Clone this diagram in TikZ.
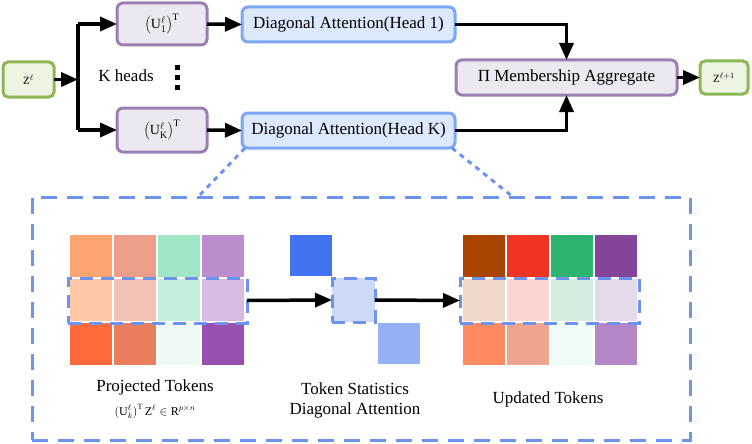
\documentclass[tikz,border=0pt]{standalone}
\usepackage{fontspec}
\setmainfont{Liberation Serif}
\usetikzlibrary{arrows.meta}
\definecolor{pborder}{HTML}{9A80B0}
\definecolor{pfill}{HTML}{ECE8F1}
\definecolor{bborder}{HTML}{7DA6F7}
\definecolor{bfill}{HTML}{DCE8FC}
\definecolor{gborder}{HTML}{8DB755}
\definecolor{gfill}{HTML}{ECF4E2}
\definecolor{dashblue}{HTML}{6E93EE}
% left grid
\definecolor{L11}{HTML}{FDA571}\definecolor{L12}{HTML}{EC9E88}\definecolor{L13}{HTML}{A0E6C4}\definecolor{L14}{HTML}{BB8DCC}
\definecolor{L21}{HTML}{FDC7A8}\definecolor{L22}{HTML}{F2C3B5}\definecolor{L23}{HTML}{C6EEDC}\definecolor{L24}{HTML}{D8BBE0}
\definecolor{L31}{HTML}{FF6A3D}\definecolor{L32}{HTML}{EA7D5E}\definecolor{L33}{HTML}{EEFAF3}\definecolor{L34}{HTML}{974FB0}
% right grid
\definecolor{R11}{HTML}{A84300}\definecolor{R12}{HTML}{EE3524}\definecolor{R13}{HTML}{2DB46F}\definecolor{R14}{HTML}{834499}
\definecolor{R21}{HTML}{EFD8CB}\definecolor{R22}{HTML}{FAD5D1}\definecolor{R23}{HTML}{D5EDE1}\definecolor{R24}{HTML}{E5DAEB}
\definecolor{R31}{HTML}{FF8A62}\definecolor{R32}{HTML}{EEA48D}\definecolor{R33}{HTML}{EFFBF5}\definecolor{R34}{HTML}{B586C8}
\definecolor{sqdark}{HTML}{4273F0}
\definecolor{sqmid}{HTML}{CCDAF8}
\definecolor{sqlow}{HTML}{95B1F5}
\begin{document}
\begin{tikzpicture}[x=1pt,y=-1pt,
  every node/.style={inner sep=0pt, outer sep=0pt},
  pbox/.style={draw=pborder, fill=pfill, line width=3pt, rounded corners=6pt},
  bbox/.style={draw=bborder, fill=bfill, line width=3pt, rounded corners=6pt},
  gbox/.style={draw=gborder, fill=gfill, line width=3pt, rounded corners=5pt},
  conn/.style={line width=3.5pt, -{Triangle[length=17pt,width=14pt]}},
  plainline/.style={line width=3.5pt},
  bigtxt/.style={font=\fontsize{17}{20}\selectfont},
  cell/.style={minimum width=42pt, minimum height=42pt},
  rowdash/.style={draw=dashblue, line width=3pt, dash pattern=on 13pt off 8pt},
  bigdash/.style={draw=dashblue, line width=3pt, dash pattern=on 16pt off 10pt},
  zoomline/.style={draw=dashblue, line width=3pt, dash pattern=on 5pt off 5pt},
  dotsq/.style={fill=black, minimum width=5pt, minimum height=5pt}
]
\useasboundingbox (0,0) rectangle (752,444);

% top flow
\node[gbox, minimum width=51pt, minimum height=35pt] (z) at (28.5,79.5) {\fontsize{11}{13}\selectfont $\mathrm{Z}^{\ell}$};
\node[pbox, minimum width=90pt, minimum height=42pt] (u1) at (162,24) {\fontsize{14}{16}\selectfont $\left(\mathrm{U}_1^{\ell}\right)^{\mathrm{T}}$};
\node[pbox, minimum width=90pt, minimum height=44pt] (uk) at (162,130) {\fontsize{14}{16}\selectfont $\left(\mathrm{U}_{\mathrm{K}}^{\ell}\right)^{\mathrm{T}}$};
\node[bbox, bigtxt, minimum width=213pt, minimum height=35pt] (h1) at (348.5,24.5) {Diagonal Attention(Head 1)};
\node[bbox, bigtxt, minimum width=213pt, minimum height=35pt] (hk) at (348.5,130.5) {Diagonal Attention(Head K)};
\node[pbox, bigtxt, minimum width=221pt, minimum height=35pt] (mem) at (566.5,77.5) {Π Membership Aggregate};
\node[gbox, minimum width=48pt, minimum height=33pt] (z1) at (724,77.5) {\fontsize{11}{13}\selectfont $\mathrm{Z}^{\ell+1}$};

\node[bigtxt] (kh) at (126,76) {K heads};
\node[dotsq] (d1) at (177,67.5) {};
\node[dotsq] (d2) at (177,77.5) {};
\node[dotsq] (d3) at (177,87.5) {};

\coordinate (jt) at (78,24);
\coordinate (jm) at (78,79.5);
\coordinate (jb) at (78,130);
\draw[conn] (z.east) -- (jm);
\draw[plainline] (jt) -- (jb);
\draw[conn] (jt) -- (u1.west);
\draw[conn] (jb) -- (uk.west);
\draw[conn] (u1.east) -- (h1.west);
\draw[conn] (uk.east) -- (hk.west);
\draw[conn] (h1.east) -| (mem.north);
\draw[conn] (hk.east) -| (mem.south);
\draw[conn] (mem.east) -- (z1.west);

% detail box
\node[bigdash, minimum width=658pt, minimum height=243pt] (detail) at (361,318.5) {};
\coordinate (zl) at (198,197);
\coordinate (zr) at (513,197);
\draw[zoomline] ([xshift=3pt]hk.south west) -- (zl);
\draw[zoomline] ([xshift=-3pt]hk.south east) -- (zr);

% grids
\foreach \r in {1,2,3}{
  \foreach \c in {1,2,3,4}{
    \node[cell, fill=L\r\c] (l\r\c) at ({91+(\c-1)*44},{256+(\r-1)*44}) {};
    \node[cell, fill=R\r\c] (r\r\c) at ({484+(\c-1)*44},{256+(\r-1)*44}) {};
  }
}
\node[rowdash, minimum width=179pt, minimum height=45pt] (lrow) at (157.5,300.5) {};
\node[rowdash, minimum width=179pt, minimum height=45pt] (rrow) at (549.5,300.5) {};

% statistics squares
\node[fill=sqdark, minimum width=42pt, minimum height=41pt] (sq1) at (311,255.5) {};
\node[fill=sqmid, rowdash, minimum width=43pt, minimum height=44pt] (sq2) at (353.5,300) {};
\node[fill=sqlow, minimum width=42pt, minimum height=41pt] (sq3) at (399,343.5) {};

\draw[conn] (lrow.east) -- (sq2.west);
\draw[conn] (sq2.east) -- (rrow.west);

% labels
\node[bigtxt] (lp) at (155,387) {Projected Tokens};
\node[font=\fontsize{12}{14}\selectfont] (lf) at (155,411) {$\bigl(\mathrm{U}_k^{\ell}\bigr)^{\mathrm{T}}\,\mathrm{Z}^{\ell}\in\mathrm{R}^{p\times n}$};
\node[bigtxt] (ls1) at (355,389) {Token Statistics};
\node[bigtxt] (ls2) at (355,410) {Diagonal Attention};
\node[bigtxt] (lu) at (548,399) {Updated Tokens};
\end{tikzpicture}
\end{document}
